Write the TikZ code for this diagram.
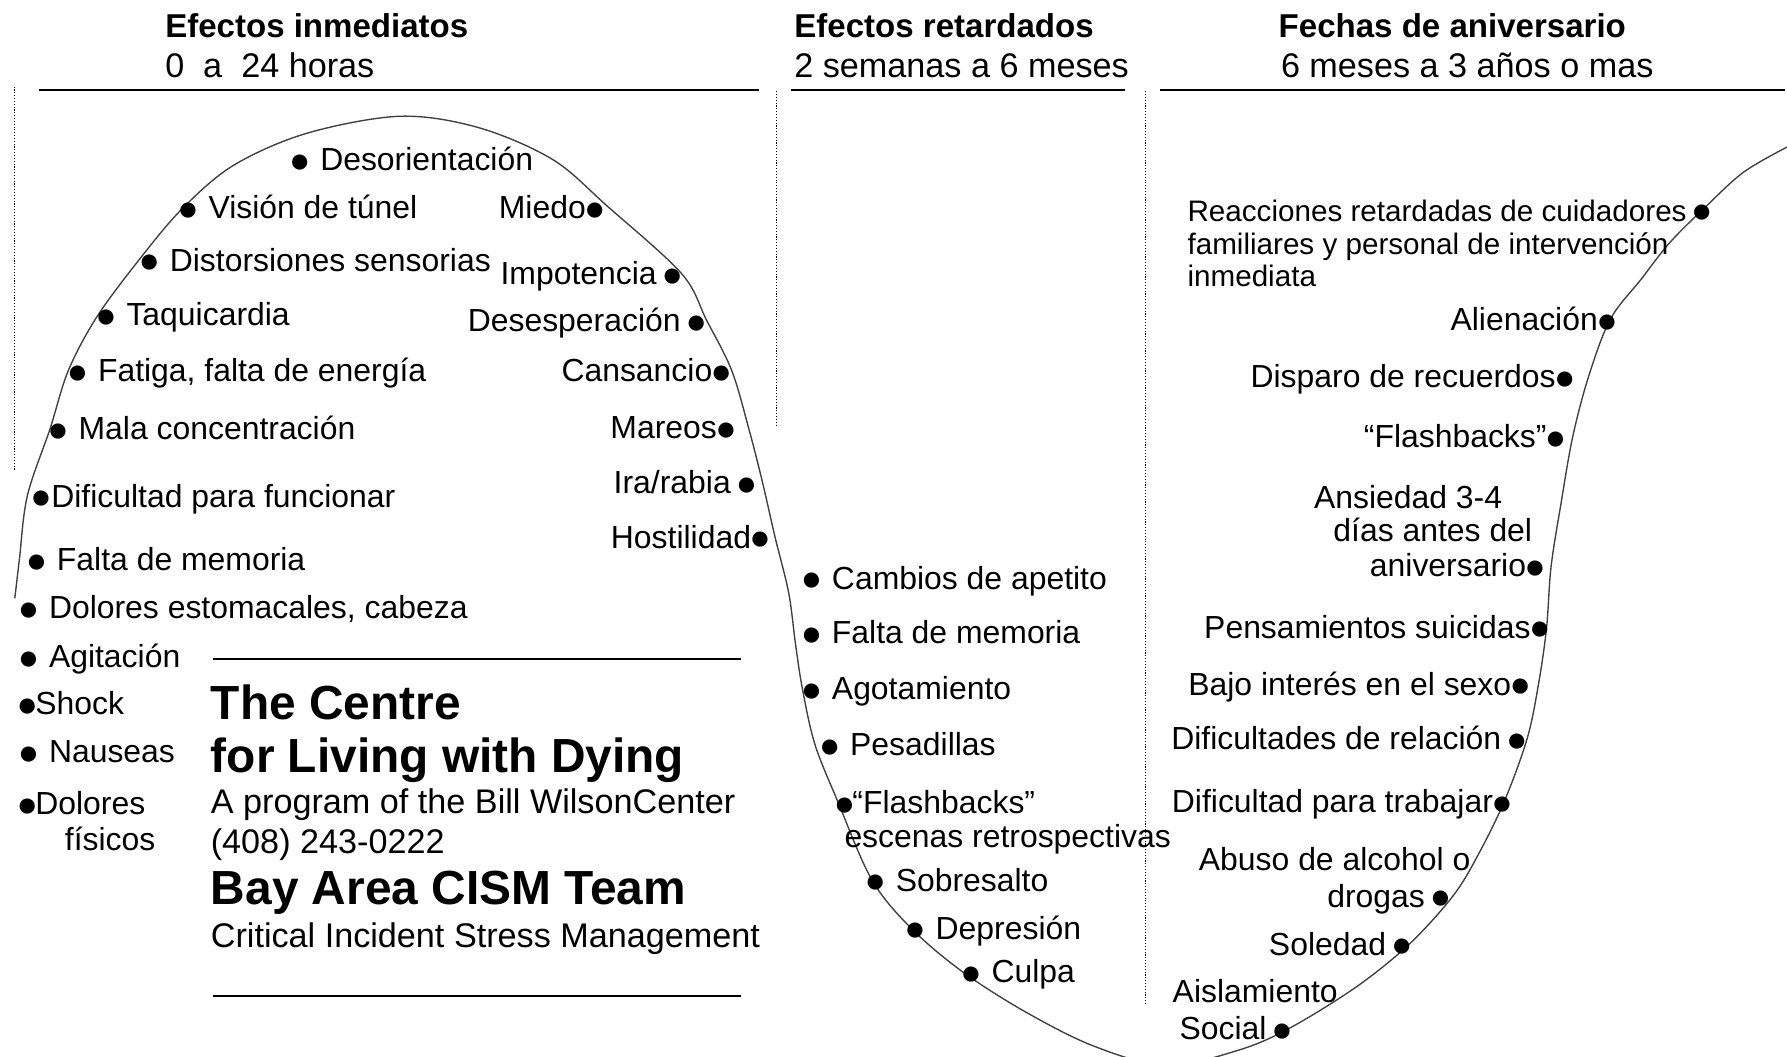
\documentclass[tikz,border=0pt]{standalone}
\usepackage{fontspec}
\setmainfont{Liberation Sans}
\newcommand\bl{\makebox[12pt][c]{\raisebox{-1.5pt}{\fontsize{31}{31}\selectfont ●}}}
\newcommand\bls{\bl\hspace{12pt}}
\newcommand\blr{\hspace{2pt}\bl}
\begin{document}
\begin{tikzpicture}[x=1pt,y=-1pt,
  every node/.style={inner sep=0pt,outer sep=0pt},
  hd/.style={anchor=base west,font=\fontsize{29}{32}\selectfont\bfseries},
  sub/.style={anchor=base west,font=\fontsize{30}{32}\selectfont},
  itm/.style={anchor=base west,font=\fontsize{28}{30}\selectfont},
  itmr/.style={anchor=base east,font=\fontsize{28}{30}\selectfont},
  sml/.style={anchor=base west,font=\fontsize{26}{28}\selectfont},
  big/.style={anchor=base west,font=\fontsize{42}{44}\selectfont\bfseries},
  rulel/.style={line width=1.6pt},
  sepl/.style={line width=1pt,dash pattern=on 1pt off 1.5pt},
  wave/.style={line width=1.2pt,draw=black!75}]
\useasboundingbox (0,0) rectangle (1568,927);
\fill[white] (0,0) rectangle (1568,927);

% headings
\node[hd]  (h1) at (145,33) {Efectos inmediatos};
\node[sub] (s1) at (145,68) {0~~a~~24 horas};
\node[hd]  (h2) at (697,33) {Efectos retardados};
\node[sub] (s2) at (697,68) {2 semanas a 6 meses};
\node[hd]  (h3) at (1122,33) {Fechas de aniversario};
\node[sub] (s3) at (1124,68) {6 meses a 3 años o mas};

% rules
\draw[rulel] (34,79) -- (666,79);
\draw[rulel] (694,79) -- (987,79);
\draw[rulel] (1018,79) -- (1566,79);
\draw[rulel] (187,578) -- (650,578);
\draw[rulel] (187,874) -- (650,874);

% dotted separators
\draw[sepl] (13,76) -- (13,412);
\draw[sepl] (681,80) -- (681,375);
\draw[sepl] (1005,80) -- (1005,881);

% wave
\begin{scope}
\clip (0,0) rectangle (1568,927);
\draw[wave] plot[smooth,tension=0.55] coordinates {
 (13,525) (17,491) (24,435) (44,376) (60,325) (85,278) (122,228) (160,183)
 (205,145) (269,117) (351,102) (420,112) (485,140) (533,181) (598,240)
 (620,281) (642,325) (657,376) (669,423) (680,471) (692,520) (698,565)
 (704,604) (715,653) (735,703) (765,772) (800,815) (845,853) (900,888)
 (960,918) (1023,935) (1085,922) (1130,903) (1190,866) (1237,828)
 (1275,786) (1297,750) (1320,703) (1340,648) (1350,600) (1357,551)
 (1361,497) (1370,440) (1380,383) (1394,330) (1413,280) (1440,245)
 (1465,213) (1495,183) (1530,151) (1570,128)};
\end{scope}

% left column of first arch
\node[itm] (a1)  at (257,150) {\bls Desorientación};
\node[itm] (a2)  at (159,192) {\bls Visión de túnel};
\node[itm] (a3)  at (125,238) {\bls Distorsiones sensorias};
\node[itm] (a4)  at (87,286)  {\bls Taquicardia};
\node[itm] (a5)  at (62,335)  {\bls Fatiga, falta de energía};
\node[itm] (a6)  at (45,386)  {\bls Mala concentración};
\node[itm] (a7)  at (30,445)  {\bl\hspace{3pt}Dificultad para funcionar};
\node[itm] (a8)  at (26,501)  {\bls Falta de memoria};
\node[itm] (a9)  at (19,543)  {\bls Dolores estomacales, cabeza};
\node[itm] (a10) at (19,586)  {\bls Agitación};
\node[itm] (a11) at (18,627)  {\bl\hspace{1pt}Shock};
\node[itm] (a12) at (19,669)  {\bls Nauseas};
\node[itm] (a13) at (18,715)  {\bl\hspace{1pt}Dolores};
\node[itm] (a14) at (57,746)  {físicos};

% right column of first arch
\node[itmr] (b1) at (528,192) {Miedo\blr};
\node[itmr] (b2) at (596,250) {Impotencia \bl};
\node[itmr] (b3) at (617,291) {Desesperación \bl};
\node[itmr] (b4) at (639,335) {Cansancio\blr};
\node[itmr] (b5) at (643,385) {Mareos\blr};
\node[itmr] (b6) at (661,433) {Ira/rabia \bl};
\node[itmr] (b7) at (673,481) {Hostilidad\blr};

% logo block
\node[big] (l1) at (185,631) {The Centre};
\node[big] (l2) at (185,678) {for Living with Dying};
\node[sub] (l3) at (185,714) {A program of the Bill WilsonCenter};
\node[sub] (l4) at (185,749) {(408) 243-0222};
\node[big] (l5) at (185,794) {Bay Area CISM Team};
\node[sub] (l6) at (185,831) {Critical Incident Stress Management};

% middle column
\node[itm] (c1) at (706,517) {\bls Cambios de apetito};
\node[itm] (c2) at (706,565) {\bls Falta de memoria};
\node[itm] (c3) at (706,614) {\bls Agotamiento};
\node[itm] (c4) at (722,663) {\bls Pesadillas};
\node[itm] (c5) at (735,714) {\bl\hspace{1pt}“Flashbacks”};
\node[itm] (c6) at (741,744) {escenas retrospectivas};
\node[itm] (c7) at (762,782) {\bls Sobresalto};
\node[itm] (c8) at (797,824) {\bls Depresión};
\node[itm] (c9) at (846,862) {\bls Culpa};

% right column
\node[sml]  (d1)  at (1042,194) {Reacciones retardadas de cuidadores \bl};
\node[sml]  (d2)  at (1042,223) {familiares y personal de intervención};
\node[sml]  (d3)  at (1042,251) {inmediata};
\node[itmr] (d4)  at (1416,290) {Alienación\blr};
\node[itmr] (d5)  at (1379,340) {Disparo de recuerdos\blr};
\node[itmr] (d6)  at (1371,393) {“Flashbacks”\blr};
\node[itm]  (d7)  at (1153,446) {Ansiedad 3-4};
\node[itm]  (d8)  at (1170,475) {días antes del};
\node[itmr] (d9)  at (1353,506) {aniversario\blr};
\node[itmr] (d10) at (1357,560) {Pensamientos suicidas\blr};
\node[itmr] (d11) at (1340,610) {Bajo interés en el sexo\blr};
\node[itmr] (d12) at (1337,658) {Dificultades de relación \bl};
\node[itmr] (d13) at (1324,713) {Dificultad para trabajar\blr};
\node[itm]  (d14) at (1052,764) {Abuso de alcohol o};
\node[itmr] (d15) at (1270,796) {drogas \bl};
\node[itmr] (d16) at (1236,838) {Soledad \bl};
\node[itm]  (d17) at (1029,880) {Aislamiento};
\node[itmr] (d18) at (1131,912) {Social \bl};
\end{tikzpicture}
\end{document}
